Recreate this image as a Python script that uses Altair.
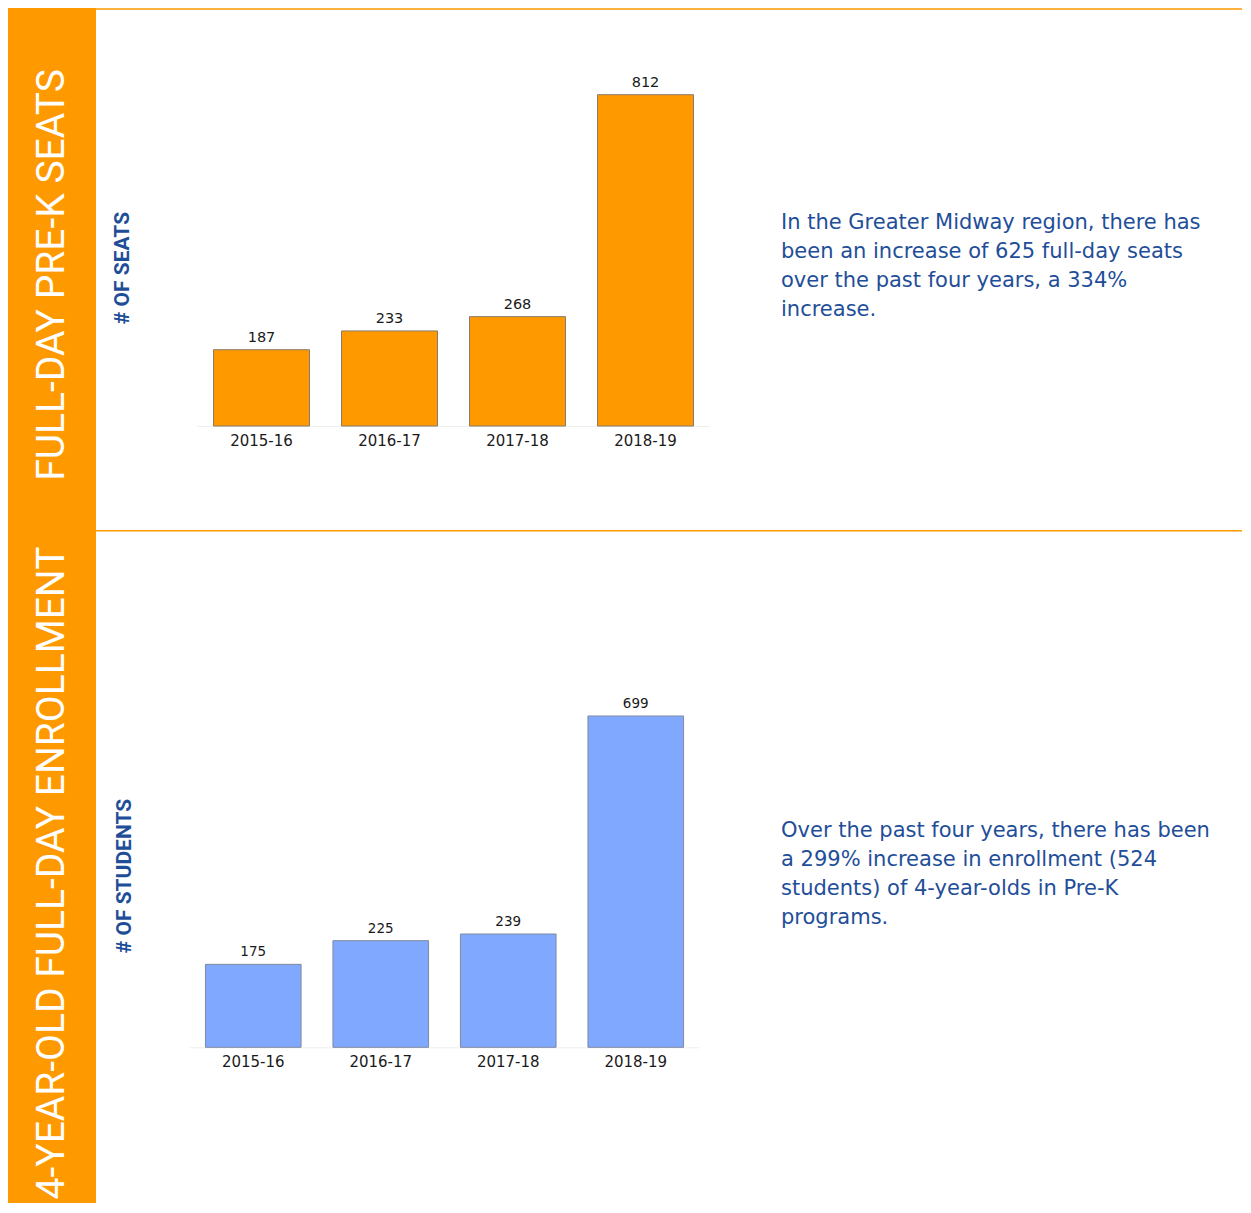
import altair as alt
import pandas as pd

years = ["2015-16", "2016-17", "2017-18", "2018-19"]
seats = [187, 233, 268, 812]
students = [175, 225, 239, 699]

band_titles = ["FULL-DAY PRE-K SEATS", "4-YEAR-OLD FULL-DAY ENROLLMENT"]
axis_titles = ["# OF SEATS", "# OF STUDENTS"]
para1 = [
    "In the Greater Midway region, there has",
    "been an increase of 625 full-day seats",
    "over the past four years, a 334%",
    "increase.",
]
para2 = [
    "Over the past four years, there has been",
    "a 299% increase in enrollment (524",
    "students) of 4-year-olds in Pre-K",
    "programs.",
]

ORANGE = "#FF9900"
BLUE_TXT = "#1F4E99"
W = 1234
COND = "Roboto"
BODY = "DejaVu Sans"

one = pd.DataFrame({"k": [0]})


def panel(values, color, stroke, x_range, y_range, base_y, label_y, val_size,
          band_title, band_y, axis_title, axis_y, para, para_y, height, line_y):
    df = pd.DataFrame({"year": years, "value": values})
    x = alt.X("year:N", sort=years,
              scale=alt.Scale(range=x_range, paddingInner=0.25, paddingOuter=0.125),
              axis=None)
    y = alt.Y("value:Q", scale=alt.Scale(domain=[0, 1000], range=y_range), axis=None)

    base = alt.Chart(df)
    bars = base.mark_bar(color=color, stroke=stroke, strokeWidth=1).encode(x=x, y=y)
    vals = base.mark_text(baseline="bottom", dy=-5, fontSize=val_size, font=BODY,
                          color="#1a1a1a").encode(x=x, y=y, text="value:Q")
    labs = base.mark_text(baseline="middle", fontSize=15, font=BODY,
                          color="#1a1a1a").encode(x=x, y=alt.value(label_y), text="year:N")

    d = alt.Chart(one)
    band = d.mark_rect(color=ORANGE).encode(
        x=alt.value(0), x2=alt.value(88), y=alt.value(0), y2=alt.value(height))
    hline = d.mark_rule(color=ORANGE, strokeWidth=1.5).encode(
        x=alt.value(88), x2=alt.value(W), y=alt.value(line_y))
    axline = d.mark_rule(color="#eeeeee", strokeWidth=1).encode(
        x=alt.value(x_range[0]), x2=alt.value(x_range[1]), y=alt.value(base_y + 0.5))
    btitle = d.mark_text(angle=270, color="white", font=COND, fontSize=39,
                         align="center", baseline="middle").encode(
        x=alt.value(44), y=alt.value(band_y), text=alt.value(band_title))
    atitle = d.mark_text(angle=270, color=BLUE_TXT, font=COND, fontSize=21,
                         fontWeight="bold", align="center", baseline="middle").encode(
        x=alt.value(axis_y[0]), y=alt.value(axis_y[1]), text=alt.value(axis_title))
    lines = [
        d.mark_text(align="left", baseline="middle", font=BODY, fontSize=21,
                    color=BLUE_TXT).encode(
            x=alt.value(773), y=alt.value(para_y + i * 29), text=alt.value(t))
        for i, t in enumerate(para)
    ]
    return alt.layer(band, hline, axline, bars, vals, labs, btitle, atitle, *lines).properties(
        width=W, height=height)


p1 = panel(seats, ORANGE, "#8a7a6a", [189.5, 701.5], [418, 10], 418, 433, 14.5,
           band_titles[0], 267, axis_titles[0], (115, 260), para1, 215, 522, 1)
p2 = panel(students, "#80A8FF", "#7f8aa0", [181.5, 691.5], [517.3, 43.3], 517.3, 532, 13.5,
           band_titles[1], 343, axis_titles[1], (117, 346), para2, 301, 673, 0.75)

chart = alt.vconcat(p1, p2, spacing=0, bounds="flush").configure_view(
    stroke=None).properties(padding=0)

chart.save("out.html", embed_options={"renderer": "svg", "actions": False})
